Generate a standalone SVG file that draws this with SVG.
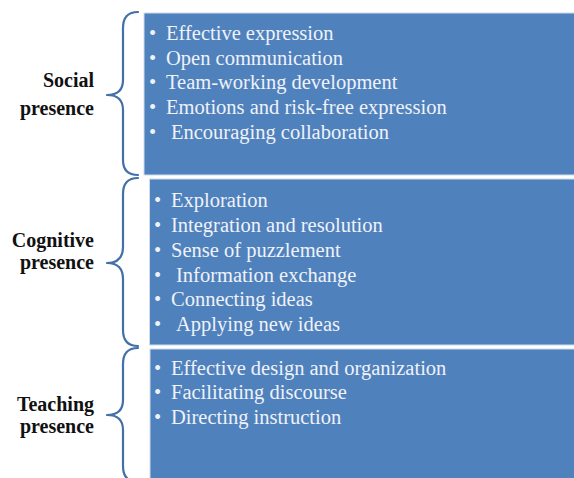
<svg xmlns="http://www.w3.org/2000/svg" width="574" height="478" viewBox="0 0 574 478">
<style>
.box{fill:#4F81BD;stroke:#D0DCEC;stroke-width:1}
.item{font-family:'Liberation Serif','Times New Roman',serif;font-size:20.5px;fill:#F0F2F8}
.label{font-family:'Liberation Serif','Times New Roman',serif;font-size:20px;font-weight:bold;fill:#111;text-anchor:end}
.brace{fill:none;stroke:#4470A8;stroke-width:2.2;stroke-linecap:round;stroke-linejoin:round}
</style>
<rect width="574" height="478" fill="#FFFFFF"/>
<g id="connectors">
<path class="brace" d="M138 12 Q123 12 123 28 L123 80 Q123 95 107 95 Q123 95 123 110 L123 160 Q123 175 138 175"/>
<path class="brace" d="M138 178 Q123 178 123 194 L123 247 Q123 263 107 263 Q123 263 123 279 L123 330 Q123 346 138 346"/>
<path class="brace" d="M138 348 Q123 348 123 364 L123 400 Q123 415 107 415 Q123 415 123 430 L123 466 Q123 482 138 482"/>
</g>
<g id="social">
<text class="label" x="94" y="87">Social</text>
<text class="label" x="94" y="115">presence</text>
<rect class="box" x="144" y="13" width="432" height="162"/>
<text class="item" x="149" y="40">•</text><text class="item" x="166" y="40">Effective expression</text>
<text class="item" x="149" y="65">•</text><text class="item" x="166" y="65">Open communication</text>
<text class="item" x="149" y="89">•</text><text class="item" x="166" y="89">Team-working development</text>
<text class="item" x="149" y="114">•</text><text class="item" x="166" y="114">Emotions and risk-free expression</text>
<text class="item" x="149" y="139">•</text><text class="item" x="171" y="139">Encouraging collaboration</text>
</g>
<g id="cognitive">
<text class="label" x="94" y="247">Cognitive</text>
<text class="label" x="94" y="269">presence</text>
<rect class="box" x="149.5" y="179" width="427" height="166"/>
<text class="item" x="154" y="207">•</text><text class="item" x="171" y="207">Exploration</text>
<text class="item" x="154" y="232">•</text><text class="item" x="171" y="232">Integration and resolution</text>
<text class="item" x="154" y="257">•</text><text class="item" x="171" y="257">Sense of puzzlement</text>
<text class="item" x="154" y="282">•</text><text class="item" x="176" y="282">Information exchange</text>
<text class="item" x="154" y="306">•</text><text class="item" x="171" y="306">Connecting ideas</text>
<text class="item" x="154" y="331">•</text><text class="item" x="176" y="331">Applying new ideas</text>
</g>
<g id="teaching">
<text class="label" x="94" y="411">Teaching</text>
<text class="label" x="94" y="433">presence</text>
<rect class="box" x="150" y="349" width="426" height="132"/>
<text class="item" x="154" y="375">•</text><text class="item" x="171" y="375">Effective design and organization</text>
<text class="item" x="154" y="399">•</text><text class="item" x="171" y="399">Facilitating discourse</text>
<text class="item" x="154" y="424">•</text><text class="item" x="171" y="424">Directing instruction</text>
</g>
</svg>
